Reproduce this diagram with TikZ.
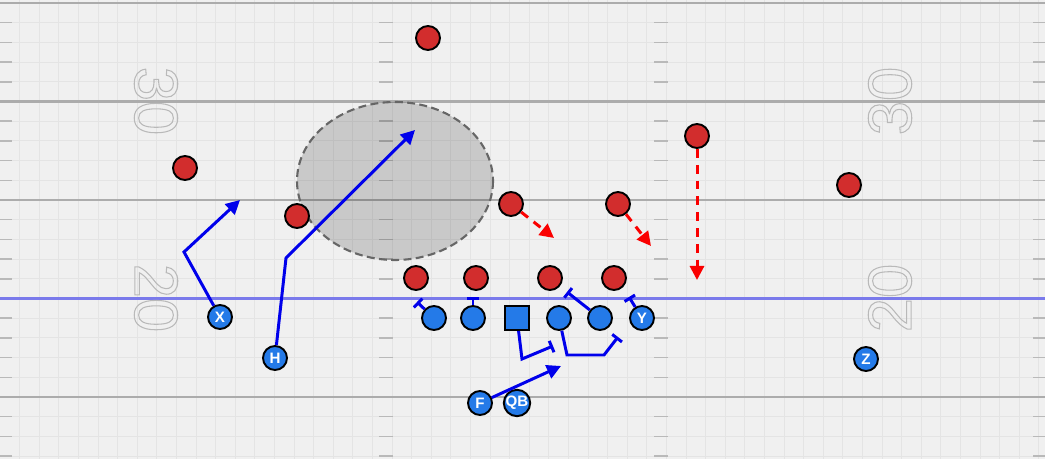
\documentclass[tikz,border=0pt]{standalone}
\usepackage{fontspec}
\setmainfont{Liberation Sans}
\usetikzlibrary{arrows.meta}
\definecolor{turf}{RGB}{240,240,240}
\definecolor{gridline}{RGB}{228,228,228}
\definecolor{yardline}{RGB}{172,172,172}
\definecolor{hashmark}{RGB}{185,185,185}
\definecolor{scrimmage}{RGB}{122,122,235}
\definecolor{offense}{RGB}{36,122,232}
\definecolor{defense}{RGB}{210,45,45}
\definecolor{routeblue}{RGB}{0,0,235}
\definecolor{blitzred}{RGB}{250,0,0}
\definecolor{numgray}{RGB}{185,185,185}
\tikzset{
  player/.style={circle, draw=black, line width=1.1pt, minimum size=0.48cm,
                 inner sep=0pt, text=white,
                 font=\fontsize{8.6}{8.6}\selectfont\bfseries},
  offman/.style={player, fill=offense},
  defman/.style={player, fill=defense},
  snapper/.style={player, rectangle, fill=offense},
  route/.style={-{Triangle[length=8pt, width=8pt]}, line width=1.7pt,
                color=routeblue, line join=miter},
  block/.style={-{Bar[width=7pt]}, line width=1.7pt, color=routeblue},
  drop/.style={-{Triangle[length=8pt, width=8pt]}, line width=1.7pt,
               color=blitzred, dash pattern=on 5pt off 4pt},
  yardnum/.style={text=numgray, inner sep=0pt,
                  font=\fontsize{35}{35}\selectfont},
}
% outlined numerals
\newcommand{\hollow}[1]{\special{pdf:literal 1 Tr 0.6 w}#1\special{pdf:literal 0 Tr}}

\begin{document}
\begin{tikzpicture}[x=0.02cm, y=-0.02cm]
    \useasboundingbox (0,0) rectangle (1045,459);
    \fill[turf] (0,0) rectangle (1045,459);

    % field markings
    \foreach \k in {1,...,53}
      \draw[gridline, line width=0.5pt] (\k*19.6,0) -- (\k*19.6,459);
    \foreach \k in {0,...,23}
      \draw[gridline, line width=0.5pt] (0,3+\k*19.7) -- (1045,3+\k*19.7);
    \foreach \y in {3,101.5,200,298.5,397}
      \draw[yardline, line width=1.2pt] (0,\y) -- (1045,\y);
    \foreach \k in {1,2,3,4,6,7,8,9,11,12,13,14,16,17,18,19,21,22,23}{
      \draw[hashmark, line width=0.8pt] (0,3+\k*19.7) -- (12,3+\k*19.7);
      \draw[hashmark, line width=0.8pt] (379,3+\k*19.7) -- (393,3+\k*19.7);
      \draw[hashmark, line width=0.8pt] (654,3+\k*19.7) -- (668,3+\k*19.7);
      \draw[hashmark, line width=0.8pt] (1033,3+\k*19.7) -- (1045,3+\k*19.7);
    }
    \draw[scrimmage, line width=1.7pt] (0,298.5) -- (1045,298.5);

    \node[yardnum, rotate=-90] (num30l) at (156,101) {\hollow{30}};
    \node[yardnum, rotate=-90] (num20l) at (156,298) {\hollow{20}};
    \node[yardnum, rotate=90] (num30r) at (890,101) {\hollow{30}};
    \node[yardnum, rotate=90] (num20r) at (890,298) {\hollow{20}};

    % zone
    \draw[fill=black, fill opacity=0.16, draw=black!60, line width=1.2pt,
          dash pattern=on 4.5pt off 2.5pt] (395,181) ellipse [x radius=98, y radius=79];

    % players
    \foreach \name/\x/\y in {fs/428/38, cbl/185/168, olb/297/216, mlb/511/204,
        wlb/618/204, ss/697/136, cbr/849/185, dla/416/278, dlb/476/278,
        dlc/550/278, dld/614/278}
      \node[defman] (\name) at (\x,\y) {};
    \foreach \name/\x/\y/\lbl in {wrx/220/317/X, hback/275/358/H, lt/434/318/,
        lg/473/318/, rg/559/318/, rt/600/318/, te/642/318/Y, wrz/866/359/Z,
        fb/480/403/F, qb/517/403/QB}
      \node[offman] (\name) at (\x,\y) {\lbl};
    \node[snapper] (snap) at (517,318) {};

    % routes
    \coordinate (xcut) at (184,252);
    \coordinate (xend) at (240,200);
    \coordinate (hcut) at (286,258);
    \coordinate (hend) at (415,130);
    \coordinate (fend) at (561,366);
    \draw[route] (wrx) -- (xcut) -- (xend);
    \draw[route] (hback) -- (hcut) -- (hend);
    \draw[route] (fb) -- (fend);

    % blocks
    \coordinate (ltblk) at (417,302);
    \coordinate (lgblk) at (473,297);
    \coordinate (snapdn) at (522,359);
    \coordinate (snapblk) at (553,346);
    \coordinate (rgdn) at (567,355);
    \coordinate (rgover) at (604,355);
    \coordinate (rgblk) at (618,337);
    \coordinate (rtblk) at (567,292);
    \coordinate (teblk) at (629,297);
    \draw[block] (lt) -- (ltblk);
    \draw[block] (lg) -- (lgblk);
    \draw[block] (snap) -- (snapdn) -- (snapblk);
    \draw[block] (rg) -- (rgdn) -- (rgover) -- (rgblk);
    \draw[block] (rt) -- (rtblk);
    \draw[block] (te) -- (teblk);

    % drops
    \coordinate (mlbend) at (554,238);
    \coordinate (wlbend) at (651,246);
    \coordinate (ssend) at (697,280);
    \draw[drop] (mlb) -- (mlbend);
    \draw[drop] (wlb) -- (wlbend);
    \draw[drop] (ss) -- (ssend);
\end{tikzpicture}
\end{document}
